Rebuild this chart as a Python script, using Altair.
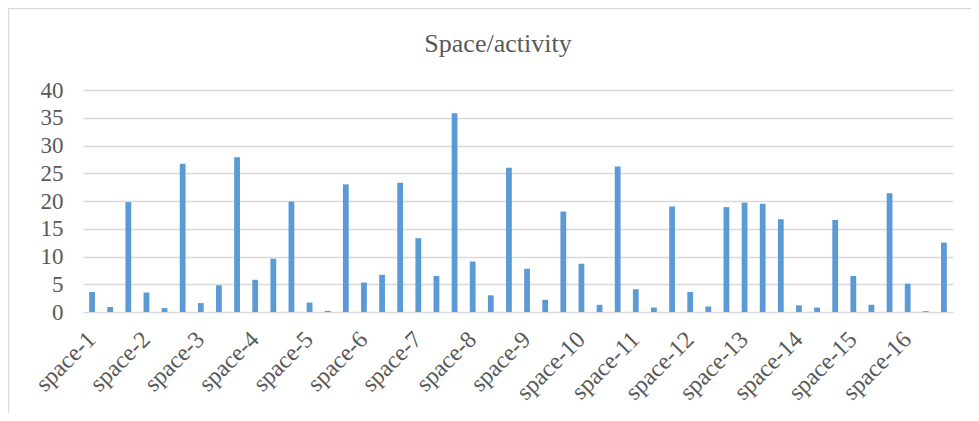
import altair as alt
import pandas as pd

spaces = [f"space-{i}" for i in range(1, 17)]
values = [
    3.6, 0.9, 19.8, 3.5, 0.7, 26.7,
    1.6, 4.8, 27.9, 5.8, 9.6, 19.9,
    1.7, 0.2, 23.0, 5.3, 6.7, 23.3,
    13.3, 6.5, 35.8, 9.1, 3.0, 26.0,
    7.8, 2.2, 18.1, 8.7, 1.3, 26.2,
    4.1, 0.8, 19.0, 3.6, 1.0, 18.9,
    19.7, 19.5, 16.7, 1.2, 0.8, 16.6,
    6.5, 1.3, 21.4, 5.1, 0.15, 12.5,
]
title_text = "Space/activity"

keys = [f"{s}|{k}" for s in spaces for k in (1, 2, 3)]
df = pd.DataFrame({"cat": keys, "value": values})
lab_df = pd.DataFrame({"cat": [f"{s}|1" for s in spaces], "label": spaces})

FONT = "Liberation Serif"
GRAY = "#595959"
GRID = "#d9d9d9"

xenc = alt.X(
    "cat:N",
    sort=keys,
    scale=alt.Scale(paddingInner=0.68, paddingOuter=0.34),
    axis=alt.Axis(
        title=None,
        labels=False,
        ticks=False,
        domainColor=GRID,
        domainWidth=1,
        grid=False,
    ),
)

bars = alt.Chart(df).mark_bar(color="#5b9bd5").encode(
    x=xenc,
    y=alt.Y(
        "value:Q",
        scale=alt.Scale(domain=[0, 40]),
        axis=alt.Axis(
            title=None,
            values=[0, 5, 10, 15, 20, 25, 30, 35, 40],
            labelFont=FONT,
            labelFontSize=23,
            labelColor=GRAY,
            labelPadding=20,
            ticks=False,
            domain=False,
            gridColor=GRID,
            gridWidth=1.3,
        ),
    ),
)

xlabels = alt.Chart(lab_df).mark_text(
    angle=315,
    align="right",
    baseline="middle",
    font=FONT,
    fontSize=24,
    color=GRAY,
).encode(
    x=alt.X("cat:N", sort=keys),
    y=alt.value(246),
    text="label:N",
)

title = alt.Chart(pd.DataFrame({"t": [title_text]})).mark_text(
    align="center",
    baseline="alphabetic",
    font=FONT,
    fontSize=26,
    color=GRAY,
).encode(
    x=alt.value(415),
    y=alt.value(-38),
    text="t:N",
)

frame = alt.Chart(pd.DataFrame({"a": [0]})).mark_rect(
    fill=None, stroke=GRID, strokeWidth=1.5
).encode(
    x=alt.value(-74.5),
    x2=alt.value(1000),
    y=alt.value(-81.5),
    y2=alt.value(400),
)

chart = alt.layer(bars, xlabels, title, frame).properties(
    width=870,
    height=222,
    padding={"left": 75, "top": 82, "right": 18, "bottom": 101},
    autosize=alt.AutoSizeParams(type="none"),
).configure_view(stroke=None)

chart.save("out.html", embed_options={"renderer": "svg", "actions": False})
